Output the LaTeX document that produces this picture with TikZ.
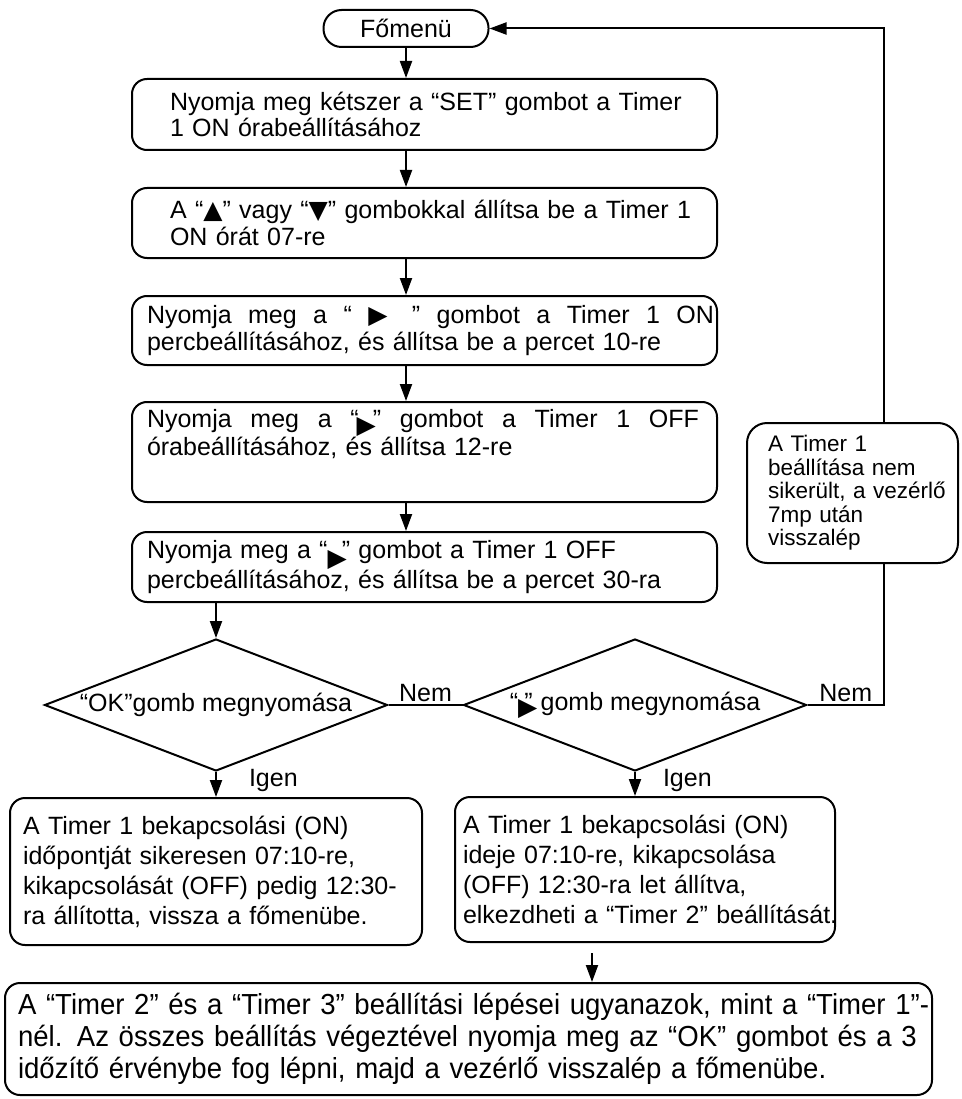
\documentclass[tikz,border=0pt]{standalone}
\usepackage{fontspec}
\setmainfont{Liberation Sans}
\newfontfamily\trifont{DejaVu Sans}
\newfontfamily\condfont[FakeStretch=0.95]{Liberation Sans}
\usetikzlibrary{shapes.geometric,arrows.meta,positioning}
\newcommand{\tri}[1]{\raisebox{#1}{\trifont ▶}}

\begin{document}
\begin{tikzpicture}[x=1pt,y=-1pt,line width=2pt,
    font=\fontsize{25}{26.5}\selectfont,
    arrow/.style={-{Triangle[length=17pt,width=12pt]}},
    stepbox/.style={draw,rounded corners=15pt,minimum width=585pt,inner sep=0pt,align=left},
    resultbox/.style={draw,rounded corners=15pt,inner sep=0pt,align=left,
      font=\fontsize{25}{30}\selectfont},
    decision/.style={draw,diamond,aspect=2.6,inner sep=0pt,minimum width=343pt,minimum height=132pt},
    tag/.style={inner sep=2pt}]
  \useasboundingbox (0,0) rectangle (961,1099);

  \node (fomenu) [draw,rounded corners=18pt,minimum width=165pt,minimum height=37pt,inner sep=0pt]
    at (406,28.5) {Főmenü};
  \node (setbtn) [stepbox,minimum height=71pt,text width=509pt] at (424.5,114.5)
    {\mbox{Nyomja meg kétszer a “SET” gombot a Timer}\\\mbox{1 ON órabeállításához}};
  \node (onhour) [stepbox,minimum height=70pt,text width=509pt] at (424.5,223)
    {\mbox{A “{\trifont ▲}” vagy “{\trifont ▼}” gombokkal állítsa be a Timer 1}\\\mbox{ON órát 07-re}};
  \node (onmin) [stepbox,minimum height=69pt,text width=555pt] at (424.5,330.5)
    {\makebox[567pt][l]{Nyomja\hfill meg\hfill a\hfill “\hfill\tri{0pt}\hfill\hspace{8pt}”\hfill
      gombot\hfill a\hfill Timer\hfill 1\hfill ON}\\
     \mbox{percbeállításához, és állítsa be a percet 10-re}};
  \node (offhour) [stepbox,minimum height=100pt,text width=555pt] at (424.5,452)
    {\makebox[552pt][l]{Nyomja\hfill meg\hfill a\hfill “\kern-2pt\tri{-6pt}\kern-3pt”\hfill
      gombot\hfill a\hfill Timer\hfill 1\hfill OFF}\\
     \mbox{órabeállításához, és állítsa 12-re}\\[13pt]~};
  \node (offmin) [stepbox,minimum height=70pt,text width=555pt] at (424.5,567)
    {\mbox{Nyomja meg a “\tri{-8pt}\kern-5pt” gombot a Timer 1 OFF}\\
     \mbox{percbeállításához, és állítsa be a percet 30-ra}};

  \node (okdec) [decision] at (216,705) {“OK”gomb megnyomása};
  \node (rightdec) [decision] at (635,705) {“\tri{-5pt}\kern-13pt”\kern8pt gomb megynomása};

  \node (okbox) [resultbox,minimum width=412pt,minimum height=147pt,text width=386pt]
    at (216,871.5) {\mbox{A Timer 1 bekapcsolási (ON)}\\\mbox{időpontját sikeresen 07:10-re,}\\
     \mbox{kikapcsolását (OFF) pedig 12:30-}\\\mbox{ra állította, vissza a főmenübe.}};
  \node (nextbox) [resultbox,minimum width=380pt,minimum height=145pt,text width=364pt]
    at (645,869.5) {\mbox{A Timer 1 bekapcsolási (ON)}\\\mbox{ideje 07:10-re, kikapcsolása}\\
     \mbox{(OFF) 12:30-ra let állítva,}\\\mbox{elkezdheti a “Timer 2” beállítását.}};
  \node (failbox) [draw,fill=white,rounded corners=20pt,inner sep=0pt,align=left,
    font=\fontsize{22.5}{23.5}\selectfont,minimum width=211pt,minimum height=140pt,text width=169pt]
    at (852.5,493) {A Timer 1\\beállítása nem\\\mbox{sikerült, a vezérlő}\\7mp után\\visszalép};
  \node (endbox) [draw,rounded corners=15pt,inner sep=0pt,align=left,
    font=\condfont\fontsize{29}{32}\selectfont,minimum width=927pt,minimum height=112pt,text width=901pt]
    at (468.5,1039) {\mbox{A “Timer 2” és a “Timer 3” beállítási lépései ugyanazok, mint a “Timer 1”-}\\
     \mbox{nél. Az összes beállítás végeztével nyomja meg az “OK” gombot és a 3}\\
     \mbox{időzítő érvénybe fog lépni, majd a vezérlő visszalép a főmenübe.}};

  \coordinate (turn) at (884,705);
  \coordinate (drop) at (592,953);

  \draw[arrow] (fomenu.south) -- (fomenu.south |- setbtn.north);
  \draw[arrow] (setbtn.south -| fomenu) -- (onhour.north -| fomenu);
  \draw[arrow] (onhour.south -| fomenu) -- (onmin.north -| fomenu);
  \draw[arrow] (onmin.south -| fomenu) -- (offhour.north -| fomenu);
  \draw[arrow] (offhour.south -| fomenu) -- (offmin.north -| fomenu);
  \draw[arrow] (offmin.south -| okdec) -- (okdec.north);
  \draw (okdec.east) -- node[tag,above] {Nem} (rightdec.west);
  \draw[arrow] (okdec.south) -- (okdec.south |- okbox.north)
    node[tag,pos=.35,right=30pt] {Igen};
  \draw[arrow] (rightdec.south) -- (rightdec.south |- nextbox.north)
    node[tag,pos=.35,right=25pt] {Igen};
  \draw (rightdec.east) -- node[tag,above] {Nem} (turn) -- (turn |- failbox.south);
  \draw[arrow] (turn |- failbox.north) |- (fomenu.east);
  \draw[arrow] (drop) -- (drop |- endbox.north);
\end{tikzpicture}
\end{document}
